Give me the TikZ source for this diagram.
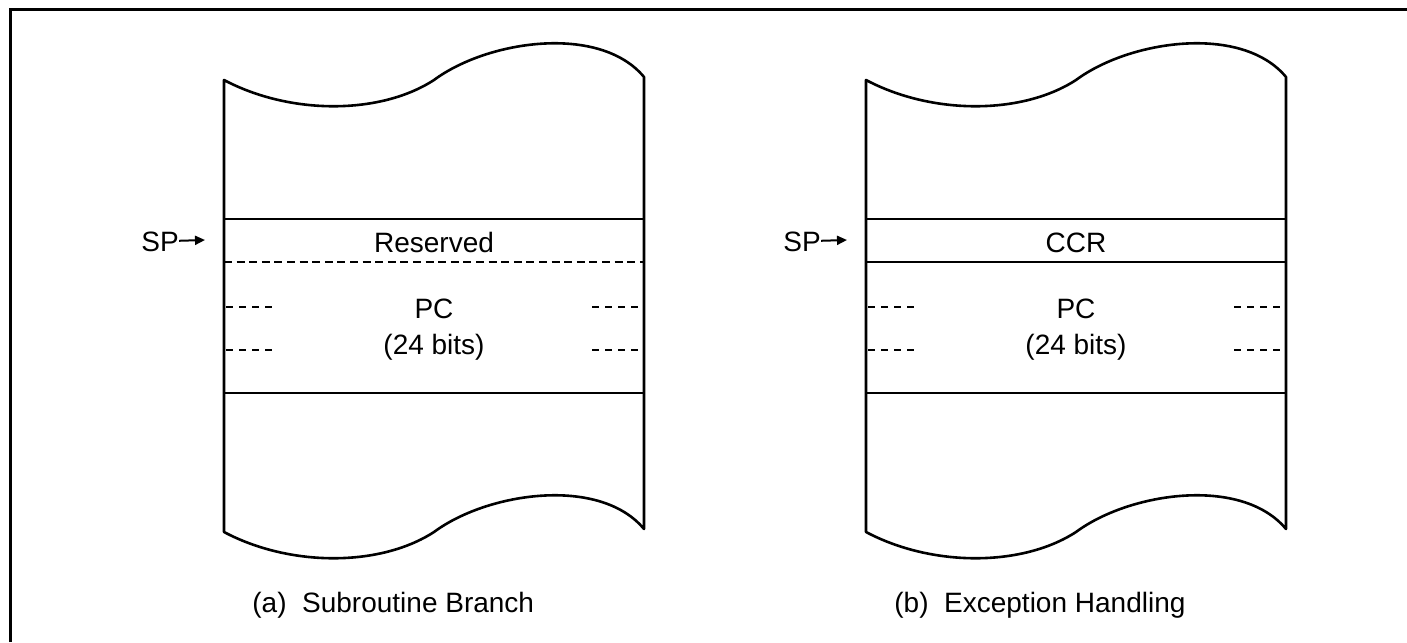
\documentclass[tikz,border=0pt]{standalone}
\usepackage{fontspec}
\setmainfont{Liberation Sans}
\usetikzlibrary{arrows.meta}

\begin{document}
\begin{tikzpicture}[x=0.5pt, y=-0.5pt,
    label/.style={inner sep=0, font=\fontsize{14}{17}\selectfont, anchor=base},
    edge/.style={line width=1.3pt, line join=round},
    cut/.style={line width=0.6pt, dash pattern=on 3.5pt off 3pt},
    split/.style={line width=1.4pt, dash pattern=on 4pt off 2.3pt},
    pointer/.style={line width=1pt, -{Triangle[length=5pt, width=4.5pt]}}]
  \useasboundingbox (0,0) rectangle (1407,642);
  % frame
  \draw[line width=1.5pt] (10,642) -- (10,10) -- (1407,10);

  % (a) subroutine branch
  \draw[edge] (224,80) .. controls (290,115) and (380,115) .. (434,80)
     .. controls (488,40) and (600,24) .. (644,77) -- (644,529)
     .. controls (600,476) and (488,492) .. (434,532)
     .. controls (380,567) and (290,567) .. (224,532) -- cycle;
  \draw[edge] (224,219) -- (644,219);
  \draw[split] (224,262) -- (644,262);
  \draw[edge] (224,393) -- (644,393);
  \draw[cut] (226,307) -- (272,307);
  \draw[cut] (226,350) -- (272,350);
  \draw[cut] (592,307) -- (638,307);
  \draw[cut] (592,350) -- (638,350);
  \node[label] (resa) at (434,252) {Reserved};
  \node[label] (pca) at (434,318) {PC};
  \node[label] (bitsa) at (434,354) {(24 bits)};
  \node[label] (spa) at (160,251) {SP};
  \coordinate (ptra) at (205,240);
  \draw[pointer] (spa) -- (ptra);
  \node[label, anchor=base west] (capa) at (252,612) {(a)\ \ Subroutine Branch};

  % (b) exception handling
  \draw[edge] (866,80) .. controls (932,115) and (1022,115) .. (1076,80)
     .. controls (1130,40) and (1242,24) .. (1286,77) -- (1286,529)
     .. controls (1242,476) and (1130,492) .. (1076,532)
     .. controls (1022,567) and (932,567) .. (866,532) -- cycle;
  \draw[edge] (866,219) -- (1286,219);
  \draw[edge] (866,262) -- (1286,262);
  \draw[edge] (866,393) -- (1286,393);
  \draw[cut] (868,307) -- (914,307);
  \draw[cut] (868,350) -- (914,350);
  \draw[cut] (1234,307) -- (1280,307);
  \draw[cut] (1234,350) -- (1280,350);
  \node[label] (ccrb) at (1076,252) {CCR};
  \node[label] (pcb) at (1076,318) {PC};
  \node[label] (bitsb) at (1076,354) {(24 bits)};
  \node[label] (spb) at (802,251) {SP};
  \coordinate (ptrb) at (847,240);
  \draw[pointer] (spb) -- (ptrb);
  \node[label, anchor=base west] (capb) at (894,612) {(b)\ \ Exception Handling};
\end{tikzpicture}
\end{document}
